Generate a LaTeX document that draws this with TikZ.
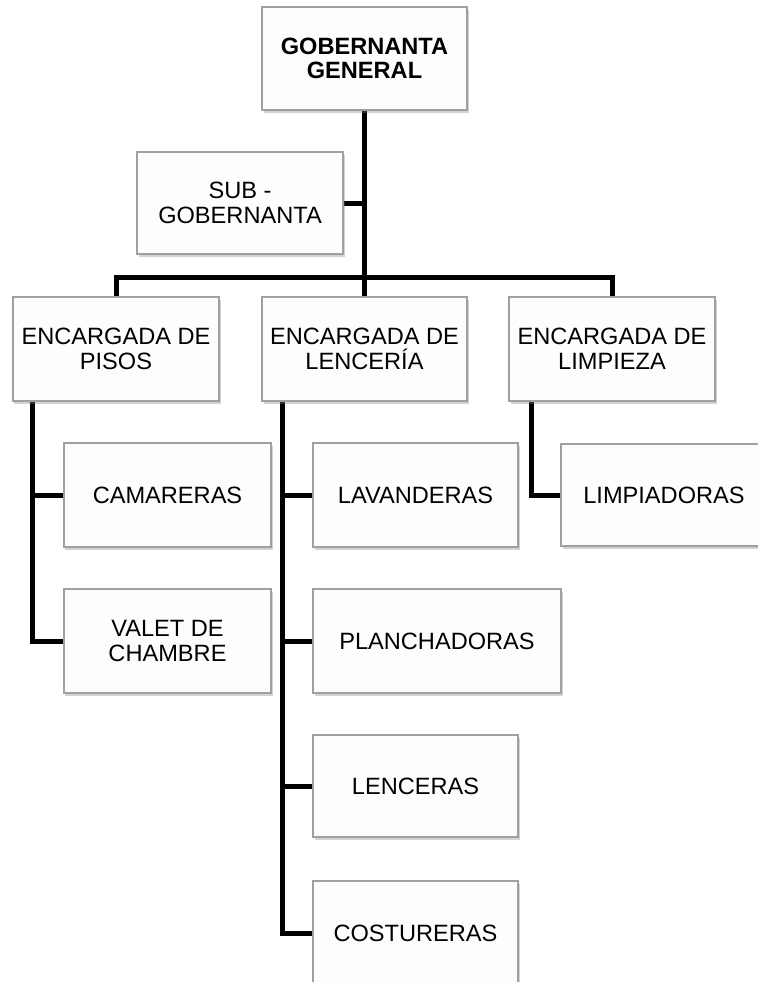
\documentclass[tikz,border=0pt]{standalone}
\usepackage{fontspec}
\setmainfont{Liberation Sans}
\usetikzlibrary{shadows,backgrounds,calc}
\definecolor{boxline}{HTML}{A0A0A0}
\definecolor{boxfill}{HTML}{FDFDFD}
\tikzset{
  orgbox/.style={draw=boxline, line width=1.3bp, fill=boxfill, rectangle,
    minimum width=206bp, minimum height=103bp, inner sep=0pt, align=center,
    font=\fontsize{23.6bp}{24.6bp}\selectfont,
    drop shadow={shadow xshift=1.5bp, shadow yshift=-2.5bp, opacity=0.35, fill=gray}},
  conn/.style={draw=black, line width=5bp, line join=miter}
}
\begin{document}
\begin{tikzpicture}[x=1bp,y=-1bp]
\useasboundingbox (0,0) rectangle (758,982);
\node[orgbox, minimum width=205bp] (gg) at (364.5,58.5) {\textbf{GOBERNANTA}\\\textbf{GENERAL}};
\node[orgbox, minimum height=102bp] (sub) at (240,203) {SUB -\\GOBERNANTA};
\node[orgbox, minimum height=104bp] (ep) at (116,349) {ENCARGADA DE\\PISOS};
\node[orgbox, minimum height=104bp, minimum width=205bp] (el) at (364.5,349) {ENCARGADA DE\\LENCERÍA};
\node[orgbox, minimum height=104bp] (elim) at (612,349) {ENCARGADA DE\\LIMPIEZA};
\node[orgbox, minimum height=104bp, minimum width=207bp] (cam) at (167.5,495) {CAMARERAS};
\node[orgbox, minimum height=104bp, minimum width=207bp] (val) at (167.5,641) {VALET DE\\CHAMBRE};
\node[orgbox, minimum height=104bp, minimum width=205bp] (lav) at (415.5,495) {LAVANDERAS};
\node[orgbox, minimum height=104bp, minimum width=248bp] (pla) at (437,641) {PLANCHADORAS};
\node[orgbox, minimum height=102bp, minimum width=205bp] (len) at (415.5,786) {LENCERAS};
\node[orgbox, minimum height=104bp, minimum width=205bp] (cos) at (415.5,933) {COSTURERAS};
\node[orgbox, minimum height=102bp] (lim) at (664,495) {LIMPIADORAS};
\coordinate (bus) at (364.5,277);
\begin{scope}[on background layer]
\draw[conn] (gg.south) -- (bus);
\draw[conn] (bus) -- (el.north);
\draw[conn] (sub.east) -- (sub.east -| gg.south);
\draw[conn] (ep.north) |- (bus) -| (elim.north);
\coordinate (epd) at ($(ep.south west)+(20,0)$);
\draw[conn] (epd) |- (cam.west);
\draw[conn] (epd) |- (val.west);
\coordinate (eld) at ($(el.south west)+(21,0)$);
\draw[conn] (eld) |- (lav.west);
\draw[conn] (eld) |- (pla.west);
\draw[conn] (eld) |- (len.west);
\draw[conn] (eld) |- (cos.west);
\coordinate (elimd) at ($(elim.south west)+(23,0)$);
\draw[conn] (elimd) |- (lim.west);
\end{scope}
\end{tikzpicture}
\end{document}
